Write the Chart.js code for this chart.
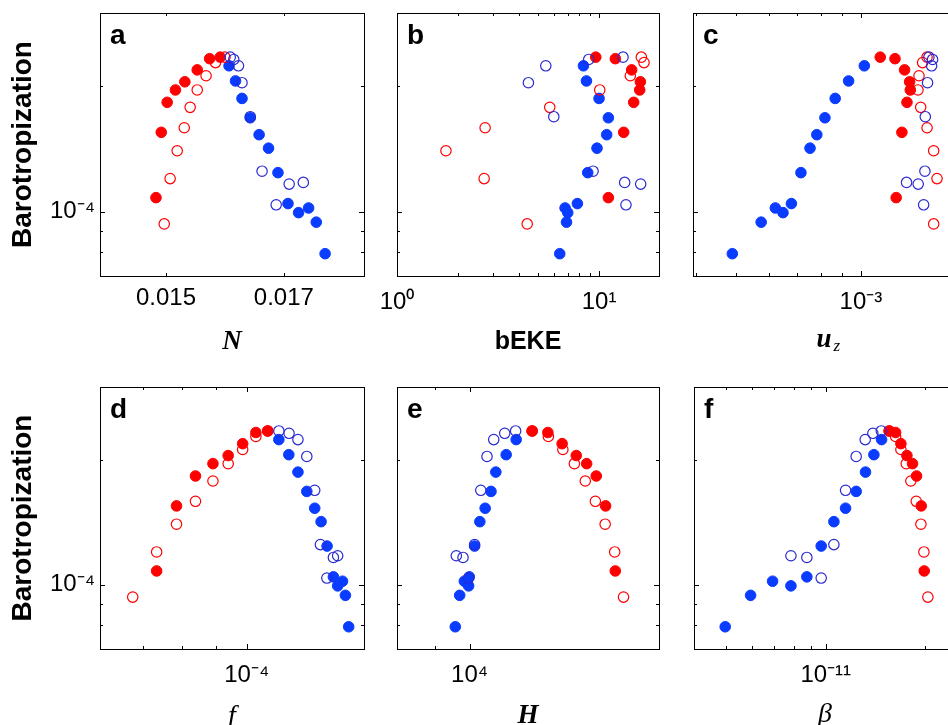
<!DOCTYPE html>
<html>
<head>
<meta charset="utf-8">
<script src="https://cdn.jsdelivr.net/npm/chart.js@4.4.0/dist/chart.umd.min.js"></script>
<style>
  html, body { margin: 0; padding: 0; background: #fff; overflow: hidden; width: 948px; height: 725px; position: relative; }
  canvas { position: absolute; left: 0; top: -40px; }
</style>
</head>
<body>
<canvas id="pa" width="1000" height="805"></canvas>
<canvas id="pb" width="1000" height="805"></canvas>
<canvas id="pc" width="1000" height="805"></canvas>
<canvas id="pd" width="1000" height="805"></canvas>
<canvas id="pe" width="1000" height="805"></canvas>
<canvas id="pf" width="1000" height="805"></canvas>
<script>
// barotropization, same runs in every panel
const yRedFilled  = [2.35e-4, 2.33e-4, 2.19e-4, 2.05e-4, 1.96e-4, 1.83e-4, 1.55e-4, 1.08e-4];
const yRedOpen    = [2.35e-4, 2.28e-4, 2.12e-4, 1.96e-4, 1.78e-4, 1.59e-4, 1.40e-4, 1.20e-4, 0.934e-4];
const yBlueFilled = [2.24e-4, 2.06e-4, 1.87e-4, 1.68e-4, 1.53e-4, 1.42e-4, 1.24e-4, 1.045e-4, 1.02e-4, 0.994e-4, 0.943e-4, 0.792e-4];
const yBlueOpen   = [2.35e-4, 2.32e-4, 2.24e-4, 2.04e-4, 1.69e-4, 1.25e-4, 1.175e-4, 1.164e-4, 1.038e-4];

// a: N
const nRedFilled  = [0.01592, 0.01574, 0.01553, 0.01532, 0.01516, 0.01502, 0.01492, 0.01483];
const nRedOpen    = [0.01600, 0.01584, 0.01568, 0.01553, 0.01541, 0.01531, 0.01519, 0.01507, 0.01497];
const nBlueFilled = [0.01607, 0.01618, 0.01629, 0.01643, 0.01658, 0.01674, 0.01690, 0.01707, 0.01742, 0.01725, 0.01755, 0.01770];
const nBlueOpen   = [0.01609, 0.01615, 0.01623, 0.01629, 0.01643, 0.01663, 0.01733, 0.01709, 0.01687];

// b: bEKE
const ekeRedFilled  = [9.63, 12.04, 14.50, 16.01, 15.89, 14.84, 13.24, 11.12];
const ekeRedOpen    = [16.19, 16.69, 14.28, 10.08, 5.70, 2.73, 1.747, 2.70, 4.41];
const ekeBlueFilled = [8.37, 8.66, 10.0, 11.12, 10.91, 9.77, 8.79, 7.81, 6.79, 7.00, 6.90, 6.39];
const ekeBlueOpen   = [13.14, 8.89, 5.45, 4.47, 5.97, 9.34, 13.39, 16.07, 13.59];

// c: u_z
const uzRedFilled  = [1.113e-3, 1.208e-3, 1.274e-3, 1.310e-3, 1.315e-3, 1.291e-3, 1.255e-3, 1.216e-3];
const uzRedOpen    = [1.443e-3, 1.408e-3, 1.380e-3, 1.372e-3, 1.393e-3, 1.443e-3, 1.497e-3, 1.525e-3, 1.497e-3];
const uzBlueFilled = [1.019e-3, 9.34e-4, 8.67e-4, 8.19e-4, 7.83e-4, 7.54e-4, 7.17e-4, 6.80e-4, 6.22e-4, 6.49e-4, 5.75e-4, 4.90e-4];
const uzBlueOpen   = [1.458e-3, 1.488e-3, 1.480e-3, 1.447e-3, 1.429e-3, 1.426e-3, 1.288e-3, 1.374e-3, 1.416e-3];

// d: f
const fRedFilled  = [1.075e-4, 1.032e-4, 0.986e-4, 0.938e-4, 0.890e-4, 0.838e-4, 0.785e-4, 0.733e-4];
const fRedOpen    = [1.075e-4, 1.032e-4, 0.986e-4, 0.938e-4, 0.890e-4, 0.838e-4, 0.785e-4, 0.733e-4, 0.675e-4];
const fBlueFilled = [1.117e-4, 1.156e-4, 1.193e-4, 1.230e-4, 1.264e-4, 1.292e-4, 1.319e-4, 1.348e-4, 1.391e-4, 1.368e-4, 1.405e-4, 1.421e-4];
const fBlueOpen   = [1.117e-4, 1.157e-4, 1.193e-4, 1.230e-4, 1.264e-4, 1.289e-4, 1.368e-4, 1.348e-4, 1.318e-4];

// e: H
const hRedFilled  = [1.212e4, 1.272e4, 1.329e4, 1.388e4, 1.433e4, 1.476e4, 1.519e4, 1.565e4];
const hRedOpen    = [1.212e4, 1.274e4, 1.332e4, 1.380e4, 1.427e4, 1.472e4, 1.517e4, 1.562e4, 1.605e4];
const hBlueFilled = [1.154e4, 1.119e4, 1.084e4, 1.068e4, 1.049e4, 1.032e4, 1.0155e4, 0.999e4, 0.984e4, 0.997e4, 0.970e4, 0.957e4];
const hBlueOpen   = [1.152e4, 1.114e4, 1.077e4, 1.055e4, 1.035e4, 1.0155e4, 0.960e4, 0.980e4, 0.997e4];

// f: beta
const betaRedFilled  = [1.555e-11, 1.626e-11, 1.687e-11, 1.759e-11, 1.829e-11, 1.881e-11, 1.943e-11, 1.984e-11];
const betaRedOpen    = [1.555e-11, 1.626e-11, 1.687e-11, 1.751e-11, 1.808e-11, 1.877e-11, 1.939e-11, 1.980e-11, 2.035e-11];
const betaBlueFilled = [1.475e-11, 1.398e-11, 1.319e-11, 1.236e-11, 1.148e-11, 1.0585e-11, 9.69e-12, 8.77e-12, 6.91e-12, 7.85e-12, 5.93e-12, 4.97e-12];
const betaBlueOpen   = [1.472e-11, 1.388e-11, 1.316e-11, 1.236e-11, 1.148e-11, 1.0585e-11, 7.85e-12, 8.77e-12, 9.69e-12];

// tick positions
const yTicks    = [8e-5, 9e-5, 1e-4, 2e-4];
const nTicks    = [0.015, 0.017];
const ekeTicks  = [1, 2, 3, 4, 5, 6, 7, 8, 9, 10];
const uzTicks   = [4e-4, 5e-4, 6e-4, 7e-4, 8e-4, 9e-4, 1e-3];
const fTicks    = [7e-5, 8e-5, 9e-5, 1e-4];
const hTicks    = [8e3, 9e3, 1e4];
const betaTicks = [5e-12, 6e-12, 7e-12, 8e-12, 9e-12, 1e-11, 2e-11];

const RED = '#ff0000';
const BLUE = '#0a3cff';
const BLUE_OPEN = '#2a2ad2';
const SANS = '"Liberation Sans", Arial, Helvetica, sans-serif';
const SERIF = '"Liberation Serif", "Times New Roman", serif';
const OFF = 40; // canvases start 40px above the page

Chart.defaults.font.family = SANS;
Chart.defaults.color = '#000';

const SUP = {'-': '\u207B', '0': '\u2070', '1': '\u00B9', '2': '\u00B2', '3': '\u00B3', '4': '\u2074',
             '5': '\u2075', '6': '\u2076', '7': '\u2077', '8': '\u2078', '9': '\u2079'};
function isPow10(v) {
  const l = Math.log10(v);
  return Math.abs(l - Math.round(l)) < 1e-6;
}
function pow10Label(v) {
  if (!isPow10(v)) return '';
  return '10' + String(Math.round(Math.log10(v))).split('').map(c => SUP[c]).join('');
}
function pts(xs, ys) { return xs.map((x, i) => ({x: x, y: ys[i]})); }

function datasets(rf, ro, bf, bo) {
  const ring = (data, col) => ({ data: data, pointRadius: 5.2, pointBackgroundColor: 'rgba(0,0,0,0)',
    pointBorderColor: col, pointBorderWidth: 1.2, showLine: false });
  const dot = (data, col) => ({ data: data, pointRadius: 5.3, pointBackgroundColor: col,
    pointBorderColor: col, pointBorderWidth: 1, showLine: false });
  return [
    ring(pts(bo, yBlueOpen), BLUE_OPEN),
    ring(pts(ro, yRedOpen), RED),
    dot(pts(bf, yBlueFilled), BLUE),
    dot(pts(rf, yRedFilled), RED)
  ];
}

// frame, inward ticks on all four sides, panel letter, subscript
const framePlugin = {
  id: 'frame',
  afterDatasetsDraw(chart, args, opts) {
    const ctx = chart.ctx, a = chart.chartArea;
    ctx.save();
    ctx.strokeStyle = '#000';
    ctx.lineWidth = 1;
    ctx.beginPath();
    ['x', 'y'].forEach(id => {
      const s = chart.scales[id];
      s.ticks.forEach(t => {
        const len = t.major ? 5 : 3;
        const p = Math.round(s.getPixelForValue(t.value)) + 0.5;
        if (id === 'x') {
          ctx.moveTo(p, a.bottom); ctx.lineTo(p, a.bottom - len);
          ctx.moveTo(p, a.top); ctx.lineTo(p, a.top + len);
        } else {
          ctx.moveTo(a.left, p); ctx.lineTo(a.left + len, p);
          ctx.moveTo(a.right, p); ctx.lineTo(a.right - len, p);
        }
      });
    });
    ctx.stroke();
    ctx.strokeRect(a.left + 0.5, a.top + 0.5, a.right - a.left, a.bottom - a.top);
    ctx.fillStyle = '#000';
    ctx.font = 'bold 28px ' + SANS;
    ctx.textBaseline = 'alphabetic';
    ctx.fillText(opts.letter, a.left + 10, a.top + 31);
    if (opts.sub) {
      const s = chart.scales.x;
      const tf = s.options.title.font;
      ctx.font = 'bold italic ' + tf.size + 'px ' + SERIF;
      const w = ctx.measureText(s.options.title.text).width;
      const cy = s.bottom - s.options.title.padding.bottom - tf.size * 0.6;
      ctx.font = 'italic 17px ' + SERIF;
      ctx.textBaseline = 'middle';
      ctx.fillText(opts.sub, (a.left + a.right) / 2 + w / 2 + 2, cy + 7);
    }
    ctx.restore();
  }
};

function makePanel(id, p) {
  const W = 1000, H = 805;
  const box = { l: p.box.l, r: p.box.r, t: p.box.t + OFF, b: p.box.b + OFF };
  const chart = new Chart(document.getElementById(id), {
    type: 'scatter',
    data: { datasets: datasets(p.rf, p.ro, p.bf, p.bo) },
    plugins: [framePlugin],
    options: {
      responsive: false,
      animation: false,
      events: [],
      layout: { padding: { left: box.l, top: box.t, right: W - box.r, bottom: H - box.b } },
      plugins: { legend: { display: false }, tooltip: { enabled: false }, frame: { letter: p.letter, sub: p.sub } },
      scales: {
        x: {
          type: p.xType, min: p.xMin, max: p.xMax,
          grid: { display: false, drawTicks: false }, border: { display: false },
          afterBuildTicks: s => { s.ticks = p.xTicks.map(v => ({ value: v, major: p.xType === 'logarithmic' && isPow10(v) })); },
          ticks: { autoSkip: false, maxRotation: 0, minRotation: 0, padding: p.xType === 'linear' ? 8 : 12,
                   font: { size: 24 }, color: '#000', callback: p.xLabel },
          title: { display: true, text: p.xTitle, color: '#000', font: p.xFont,
                   padding: { top: p.titlePad, bottom: 0 } }
        },
        y: {
          type: 'logarithmic', min: 7e-5, max: 3e-4,
          grid: { display: false, drawTicks: false }, border: { display: false },
          afterBuildTicks: s => { s.ticks = yTicks.map(v => ({ value: v, major: isPow10(v) })); },
          ticks: { display: p.yLabels, autoSkip: false, padding: 5, font: { size: 24 }, color: '#000',
                   callback: v => pow10Label(v) },
          title: { display: p.yLabels, text: 'Barotropization', color: '#000',
                   font: { size: 28, weight: 'bold', family: SANS }, padding: { top: 0, bottom: 5 } }
        }
      }
    }
  });
  // move the plot area onto the panel box
  for (let k = 0; k < 3; k++) {
    const a = chart.chartArea, pad = chart.options.layout.padding;
    pad.left += box.l - a.left;
    pad.top += box.t - a.top;
    pad.right += a.right - box.r;
    pad.bottom += a.bottom - box.b;
    chart.update('none');
  }
  return chart;
}

const italicBold = { size: 27, style: 'italic', weight: 'bold', family: SERIF };
const italicPlain = { size: 28, style: 'italic', weight: 'normal', family: SERIF };

makePanel('pa', { letter: 'a', box: { l: 100, t: 13, r: 364, b: 276 }, xType: 'linear', xMin: 0.01388, xMax: 0.01836,
  xTicks: nTicks, xLabel: v => v.toFixed(3), xTitle: 'N', xFont: italicBold, titlePad: 5, yLabels: true,
  rf: nRedFilled, ro: nRedOpen, bf: nBlueFilled, bo: nBlueOpen });
makePanel('pb', { letter: 'b', box: { l: 397, t: 13, r: 659, b: 276 }, xType: 'logarithmic', xMin: 1, xMax: 19.8,
  xTicks: ekeTicks, xLabel: v => pow10Label(v), xTitle: 'bEKE', xFont: { size: 25, weight: 'bold', family: SANS },
  titlePad: -2, yLabels: false,
  rf: ekeRedFilled, ro: ekeRedOpen, bf: ekeBlueFilled, bo: ekeBlueOpen });
makePanel('pc', { letter: 'c', box: { l: 693, t: 13, r: 955, b: 276 }, xType: 'logarithmic', xMin: 3.94e-4, xMax: 1.685e-3,
  xTicks: uzTicks, xLabel: v => pow10Label(v), xTitle: 'u', xFont: italicBold, sub: 'z', titlePad: -5, yLabels: false,
  rf: uzRedFilled, ro: uzRedOpen, bf: uzBlueFilled, bo: uzBlueOpen });
makePanel('pd', { letter: 'd', box: { l: 100, t: 387, r: 364, b: 649 }, xType: 'logarithmic', xMin: 6.03e-5, xMax: 1.498e-4,
  xTicks: fTicks, xLabel: v => pow10Label(v), xTitle: 'f', xFont: italicPlain, titlePad: -2, yLabels: true,
  rf: fRedFilled, ro: fRedOpen, bf: fBlueFilled, bo: fBlueOpen });
makePanel('pe', { letter: 'e', box: { l: 397, t: 387, r: 659, b: 649 }, xType: 'logarithmic', xMin: 8e3, xMax: 1.79e4,
  xTicks: hTicks, xLabel: v => pow10Label(v), xTitle: 'H', xFont: italicBold, titlePad: -2, yLabels: false,
  rf: hRedFilled, ro: hRedOpen, bf: hBlueFilled, bo: hBlueOpen });
makePanel('pf', { letter: 'f', box: { l: 694, t: 387, r: 956, b: 649 }, xType: 'logarithmic', xMin: 4e-12, xMax: 2.475e-11,
  xTicks: betaTicks, xLabel: v => pow10Label(v), xTitle: '\u03B2', xFont: italicPlain, titlePad: -4, yLabels: false,
  rf: betaRedFilled, ro: betaRedOpen, bf: betaBlueFilled, bo: betaBlueOpen });
</script>
</body>
</html>
